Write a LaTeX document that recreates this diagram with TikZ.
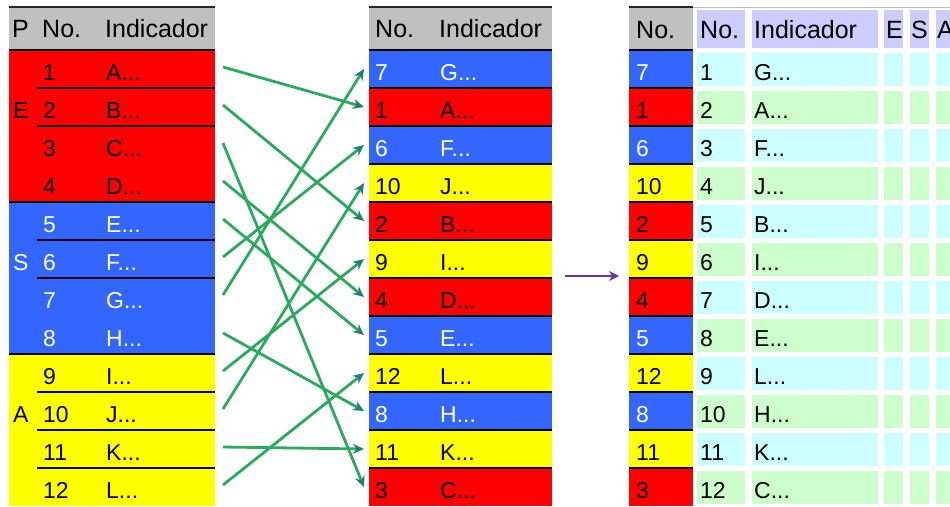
\documentclass[tikz,border=0pt]{standalone}
\usepackage{fontspec}
\setmainfont{Liberation Sans}
\usetikzlibrary{arrows.meta}
\definecolor{cR}{HTML}{FF0000}
\definecolor{cB}{HTML}{3366FF}
\definecolor{cY}{HTML}{FFFF00}
\definecolor{cG}{HTML}{C0C0C0}
\definecolor{cCy}{HTML}{CCFFFF}
\definecolor{cGr}{HTML}{CCFFCC}
\definecolor{cLv}{HTML}{CCCCFF}
\definecolor{lnk}{HTML}{2AAA5C}
\definecolor{tipc}{HTML}{1F8077}
\definecolor{purp}{HTML}{7030A0}
\tikzset{
  txt/.style={anchor=base west,inner sep=0pt,font=\fontsize{23}{25}\selectfont},
  hdr/.style={anchor=base west,inner sep=0pt,font=\fontsize{25}{27}\selectfont},
  sep/.style={line width=1.6pt,black},
  link/.style={line width=2.8pt,lnk,-{Stealth[length=11pt,width=10pt,color=tipc]}},
  bigarrow/.style={line width=2.8pt,purp,-{Stealth[length=10pt,width=10pt]}}
}
\begin{document}
\begin{tikzpicture}[x=1pt,y=-1pt]
\useasboundingbox (0,0) rectangle (950,506);
\clip (0,0) rectangle (950,506);
% ---------- left table ----------
\fill[cG] (9,7) rectangle (215,50);
\node[hdr] (lhP) at (12,37) {P};
\node[hdr] (lhN) at (42,37) {No.};
\node[hdr] (lhI) at (105,37) {Indicador};
\foreach \i/\l/\c/\t in {1/A/cR/black,2/B/cR/black,3/C/cR/black,4/D/cR/black,
  5/E/cB/white,6/F/cB/white,7/G/cB/white,8/H/cB/white,
  9/I/cY/black,10/J/cY/black,11/K/cY/black,12/L/cY/black}{
  \fill[\c] (9,{50+38*(\i-1)}) rectangle (215,{88+38*(\i-1)});
}
\foreach \i/\l/\t in {1/A/black,2/B/black,3/C/black,4/D/black,
  5/E/white,6/F/white,7/G/white,8/H/white,
  9/I/black,10/J/black,11/K/black,12/L/black}{
  \node[txt,text=\t] (ln\i) at (43,{80+38*(\i-1)}) {\i};
  \node[txt,text=\t] (ll\i) at (106,{80+38*(\i-1)}) {\l...};
}
\node[txt] (gE) at (13,118) {E};
\node[txt,text=white] (gS) at (13,270) {S};
\node[txt] (gA) at (13,422) {A};
\draw[line width=2pt,black!85] (9,7) -- (215,7);
\draw[sep] (9,50) -- (215,50);
\foreach \k in {1,2,4,5,6,8,9,10,11}{
  \draw[sep] (37,{50+38*\k}) -- (215,{50+38*\k});
}
\draw[sep] (9,202) -- (215,202);
\draw[sep] (9,354) -- (215,354);
% ---------- middle table ----------
\fill[cG] (369,7) rectangle (552,50);
\node[hdr] (mhN) at (375,37) {No.};
\node[hdr] (mhI) at (439,37) {Indicador};
\foreach \j/\n/\l/\c/\t in {1/7/G/cB/white,2/1/A/cR/black,3/6/F/cB/white,4/10/J/cY/black,
  5/2/B/cR/black,6/9/I/cY/black,7/4/D/cR/black,8/5/E/cB/white,
  9/12/L/cY/black,10/8/H/cB/white,11/11/K/cY/black,12/3/C/cR/black}{
  \fill[\c] (369,{50+38*(\j-1)}) rectangle (552,{88+38*(\j-1)});
  \node[txt,text=\t] (mn\j) at (375,{80+38*(\j-1)}) {\n};
  \node[txt,text=\t] (ml\j) at (440,{80+38*(\j-1)}) {\l...};
}
\draw[line width=2pt,black!85] (369,7) -- (552,7);
\foreach \k in {0,...,11}{
  \draw[sep] (369,{50+38*\k}) -- (552,{50+38*\k});
}
% ---------- right table ----------
\draw[line width=1pt,black!25] (693,7) -- (950,7);
\fill[cG] (629,7) rectangle (693,50);
\node[hdr] (rhN) at (636,38) {No.};
\fill[cLv] (697,10) rectangle (745,48);
\fill[cLv] (752,10) rectangle (878,48);
\fill[cLv] (884,10) rectangle (903,48);
\fill[cLv] (910,10) rectangle (929,48);
\fill[cLv] (936,10) rectangle (960,48);
\node[hdr] (rhN2) at (700,38) {No.};
\node[hdr] (rhI) at (754,38) {Indicador};
\node[hdr] (rhE) at (886,38) {E};
\node[hdr] (rhS) at (911,38) {S};
\node[hdr] (rhA) at (937,38) {A};
\foreach \j/\n/\l/\c/\t/\bg in {1/7/G/cB/white/cCy,2/1/A/cR/black/cGr,3/6/F/cB/white/cCy,4/10/J/cY/black/cGr,
  5/2/B/cR/black/cCy,6/9/I/cY/black/cGr,7/4/D/cR/black/cCy,8/5/E/cB/white/cGr,
  9/12/L/cY/black/cCy,10/8/H/cB/white/cGr,11/11/K/cY/black/cCy,12/3/C/cR/black/cGr}{
  \fill[\c] (629,{50+38*(\j-1)}) rectangle (693,{88+38*(\j-1)});
  \node[txt,text=\t] (rn\j) at (636,{80+38*(\j-1)}) {\n};
  \fill[\bg] (697,{53+38*(\j-1)}) rectangle (745,{86+38*(\j-1)});
  \fill[\bg] (752,{53+38*(\j-1)}) rectangle (878,{86+38*(\j-1)});
  \fill[\bg] (884,{53+38*(\j-1)}) rectangle (903,{86+38*(\j-1)});
  \fill[\bg] (910,{53+38*(\j-1)}) rectangle (929,{86+38*(\j-1)});
  \fill[\bg] (936,{53+38*(\j-1)}) rectangle (960,{86+38*(\j-1)});
  \node[txt] (rk\j) at (700,{80+38*(\j-1)}) {\j};
  \node[txt] (rl\j) at (754,{80+38*(\j-1)}) {\l...};
}
\draw[line width=2pt,black!85] (629,7) -- (693,7);
\foreach \k in {0,...,11}{
  \draw[sep] (629,{50+38*\k}) -- (693,{50+38*\k});
}
% ---------- connectors ----------
\foreach \i in {1,...,12}{
  \coordinate (s\i) at (223,{67+38*(\i-1)});
  \coordinate (t\i) at (364,{69+38*(\i-1)});
}
\foreach \a/\b in {1/2,2/5,3/12,4/7,5/8,6/3,7/1,8/10,9/6,10/4,11/11,12/9}{
  \draw[link] (s\a) -- (t\b);
}
\coordinate (pa) at (565,276);
\coordinate (pb) at (619,276);
\draw[bigarrow] (pa) -- (pb);
\end{tikzpicture}
\end{document}
